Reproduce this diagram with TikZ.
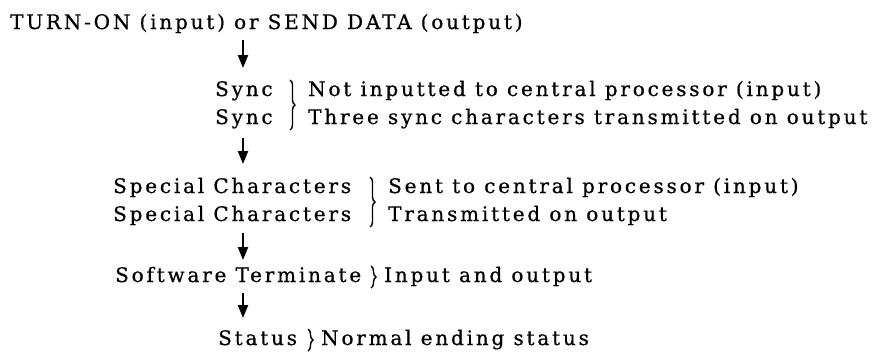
\documentclass[tikz,border=0pt]{standalone}
\usepackage{fontspec}
\setmainfont{DejaVu Serif}[LetterSpace=14,FakeBold=0.7]
\usetikzlibrary{arrows.meta,decorations.pathreplacing}
\begin{document}
\begin{tikzpicture}[x=1pt,y=-1pt,
 txt/.style={inner sep=0pt,anchor=base west,font=\fontsize{20}{22}\selectfont},
 flow/.style={line width=2.2pt,-{Triangle[length=13pt,width=10pt]}},
 brc/.style={decorate,decoration={brace,amplitude=5pt},line width=1.4pt}]
\useasboundingbox (0,0) rectangle (882,357);
\node[txt] (top) at (10,29) {TURN-ON (input) or SEND DATA (output)};
\node[txt] (s1) at (215,96) {Sync};
\node[txt] (s2) at (215,124) {Sync};
\node[txt] (d1) at (308,96) {Not inputted to central processor (input)};
\node[txt] (d2) at (308,124) {Three sync characters transmitted on output};
\node[txt] (c1) at (113,193) {Special Characters};
\node[txt] (c2) at (113,221) {Special Characters};
\node[txt] (e1) at (388,193) {Sent to central processor (input)};
\node[txt] (e2) at (388,221) {Transmitted on output};
\node[txt] (t) at (115,282) {Software Terminate};
\node[txt] (f) at (384,282) {Input and output};
\node[txt] (st) at (218,345) {Status};
\node[txt] (g) at (321,345) {Normal ending status};
\coordinate (a1s) at (243,40); \coordinate (a1e) at (243,68);
\coordinate (a2s) at (243,138); \coordinate (a2e) at (243,164);
\coordinate (a3s) at (243,233); \coordinate (a3e) at (243,260);
\coordinate (a4s) at (243,293); \coordinate (a4e) at (243,318);
\draw[flow] (a1s) -- (a1e);
\draw[flow] (a2s) -- (a2e);
\draw[flow] (a3s) -- (a3e);
\draw[flow] (a4s) -- (a4e);
\coordinate (b1t) at (290,80); \coordinate (b1b) at (290,130);
\coordinate (b2t) at (370,177); \coordinate (b2b) at (370,227);
\coordinate (b3t) at (371,266); \coordinate (b3b) at (371,288);
\coordinate (b4t) at (308,329); \coordinate (b4b) at (308,351);
\draw[brc] (b1t) -- (b1b);
\draw[brc] (b2t) -- (b2b);
\draw[brc] (b3t) -- (b3b);
\draw[brc] (b4t) -- (b4b);
\end{tikzpicture}
\end{document}
